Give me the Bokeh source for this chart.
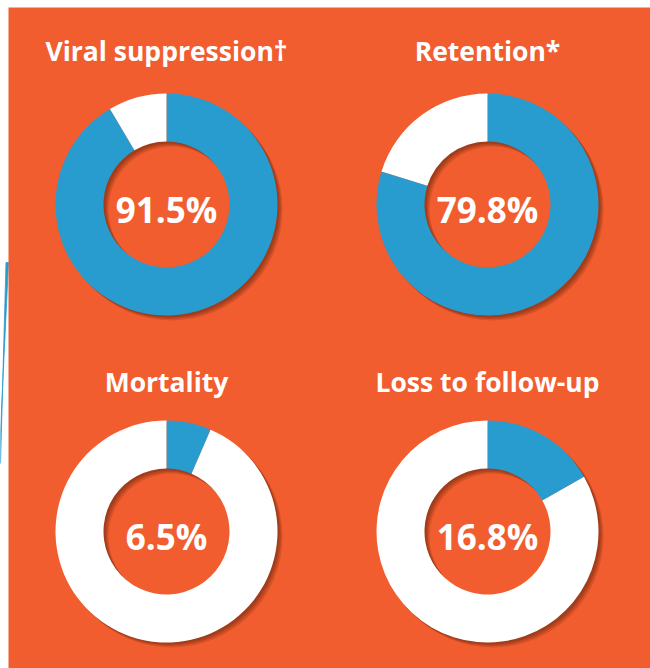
import math
from bokeh.plotting import figure
from bokeh.models import Range1d
from bokeh.core.properties import value
from bokeh.embed import file_html
from bokeh.resources import INLINE

# ---- data ----
titles = ["Viral suppression\u2020", "Retention*", "Mortality", "Loss to follow-up"]
percents = [91.5, 79.8, 6.5, 16.8]
labels = ["91.5%", "79.8%", "6.5%", "16.8%"]

# ---- layout / style ----
W, H = 650, 668
ORANGE = "#F15D2F"
BLUE = "#289CCF"
WHITE = "#FFFFFF"
SHADOW = "#5a1e08"
centers_x = [166, 487, 166, 487]
centers_y_px = [204, 204, 531, 531]
title_y_px = [50, 50, 381, 381]
R_OUT, R_IN = 111, 63

def fy(ypx):
    return H - ypx

p = figure(width=W, height=H, output_backend="svg", toolbar_location=None,
           x_range=Range1d(0, W), y_range=Range1d(0, H), min_border=0)
p.axis.visible = False
p.grid.visible = False
p.outline_line_color = None
p.background_fill_color = WHITE
p.border_fill_color = WHITE

# decorative blue sliver at left margin
p.patch(x=[8, 5.5, 0, 0], y=[fy(262), fy(262), fy(463), fy(430)],
        fill_color=BLUE, line_color=BLUE, line_width=0.8)

# orange panel
p.quad(left=[8], right=[W], bottom=[0], top=[fy(7)], fill_color=ORANGE, line_color=None)

cx = centers_x
cy = [fy(v) for v in centers_y_px]

# drop shadows (also produce the inner shadow in the hole)
for off, a in [(5, 0.18), (3.5, 0.22), (2, 0.25)]:
    p.annular_wedge(x=[c + off for c in cx], y=[c - off for c in cy],
                    inner_radius=R_IN, outer_radius=R_OUT,
                    start_angle=0, end_angle=2 * math.pi,
                    fill_color=SHADOW, fill_alpha=a, line_color=None)

# blue part: clockwise from 12 o'clock
start = [math.pi / 2] * 4
end_blue = [math.pi / 2 - 2 * math.pi * v / 100 for v in percents]
p.annular_wedge(x=cx, y=cy, inner_radius=R_IN, outer_radius=R_OUT,
                start_angle=end_blue, end_angle=start, direction="anticlock",
                fill_color=BLUE, line_color=None)
# white remainder
p.annular_wedge(x=cx, y=cy, inner_radius=R_IN, outer_radius=R_OUT,
                start_angle=start, end_angle=[e + 2 * math.pi for e in end_blue],
                direction="anticlock",
                fill_color=WHITE, line_color=None)

# center labels
p.text(x=cx, y=[c - 5 for c in cy], text=labels, text_align="center",
       text_baseline="middle", text_color=WHITE, text_font=value("Open Sans"),
       text_font_style="bold", text_font_size="35px")

# titles
p.text(x=cx, y=[fy(v) for v in title_y_px], text=titles, text_align="center",
       text_baseline="middle", text_color=WHITE, text_font=value("Open Sans"),
       text_font_style="bold", text_font_size="26.5px")

open("out.html", "w").write(file_html(p, INLINE))
